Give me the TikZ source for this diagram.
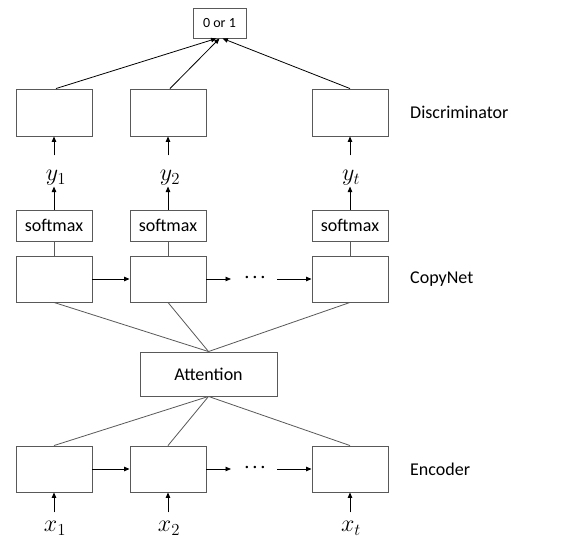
\documentclass[tikz,border=0pt]{standalone}
\usepackage{fix-cm}
\usepackage{fontspec}
\setmainfont{Carlito}
\usetikzlibrary{arrows.meta,calc}
\definecolor{boxgray}{HTML}{595959}
\tikzset{
  box/.style={draw=boxgray, line width=0.9pt, minimum width=76pt, minimum height=46pt, inner sep=0pt, font=\fontsize{18}{21}\selectfont},
  smbox/.style={box, minimum height=31pt},
  lbl/.style={anchor=west, font=\fontsize{18}{21}\selectfont, inner sep=0pt},
  mlbl/.style={inner sep=0pt, anchor=base, font=\fontsize{24}{28}\selectfont},
  dotsl/.style={inner sep=0pt, font=\fontsize{24}{28}\selectfont},
  arr/.style={-{Triangle[length=5.5pt,width=4.5pt]}, line width=0.8pt, black},
  ln/.style={line width=0.8pt, boxgray},
}
\begin{document}
\begin{tikzpicture}[x=1pt,y=-1pt]
\useasboundingbox[fill=white] (0,0) rectangle (566,540);
% top
\node[box, minimum width=53pt, minimum height=30pt, font=\fontsize{14}{16}\selectfont] (top) at (219.5,23) {0 or 1};
% discriminator
\node[box, minimum height=47pt] (d1) at (54,112.5) {};
\node[box, minimum height=47pt] (d2) at (168,112.5) {};
\node[box, minimum height=47pt] (d3) at (350,112.5) {};
\node[lbl] (dl) at (410,112) {Discriminator};
% y labels
\node[mlbl] (y1) at (56,181) {$y_1$};
\node[mlbl] (y2) at (170,181) {$y_2$};
\node[mlbl] (yt) at (351,181) {$y_t$};
% softmax
\node[smbox] (s1) at (54,225.5) {softmax};
\node[smbox] (s2) at (168,225.5) {softmax};
\node[smbox] (s3) at (350,225.5) {softmax};
% copynet
\node[box] (c1) at (54,279) {};
\node[box] (c2) at (168,279) {};
\node[box] (c3) at (350,279) {};
\node[lbl] (cl) at (410,279) {CopyNet};
\coordinate (ca) at (231,279);
\coordinate (cb) at (277,279);
\node[dotsl] (cdots) at (255,278) {$\cdot\!\cdot\!\cdot$};
% attention
\node[box, minimum width=137pt, minimum height=44pt] (att) at (208.5,374) {Attention};
% encoder
\node[box] (e1) at (54,469) {};
\node[box] (e2) at (168,469) {};
\node[box] (e3) at (350,469) {};
\node[lbl] (el) at (410,469) {Encoder};
\coordinate (ea) at (231,469);
\coordinate (eb) at (277,469);
\node[dotsl] (edots) at (255,468) {$\cdot\!\cdot\!\cdot$};
% x labels
\node[mlbl] (x1) at (55,532) {$x_1$};
\node[mlbl] (x2) at (169,532) {$x_2$};
\node[mlbl] (xt) at (351,532) {$x_t$};

% arrows to top
\draw[arr] ([xshift=2pt]d1.north) -- ([xshift=-3pt]top.south);
\draw[arr] ([xshift=2pt]d2.north) -- ([xshift=0pt]top.south);
\draw[arr] (d3.north) -- ([xshift=3pt]top.south);
% y into discriminator
\foreach \b in {d1,d2,d3} \draw[arr] ([yshift=-19pt]\b.south) -- (\b.south);
% softmax to y
\foreach \b in {s1,s2,s3} \draw[arr] (\b.north) -- ([yshift=23pt]\b.north);
% softmax - copynet
\draw[ln] (s1.south) -- (c1.north);
\draw[ln] (s2.south) -- (c2.north);
\draw[ln] (s3.south) -- (c3.north);
% copynet chain
\draw[arr] (c1.east) -- (c2.west);
\draw[arr] (c2.east) -- (ca);
\draw[arr] (cb) -- (c3.west);
% copynet - attention
\foreach \b in {c1,c2,c3} \draw[ln] (\b.south) -- (att.north);
% attention - encoder
\foreach \b in {e1,e2,e3} \draw[ln] (att.south) -- (\b.north);
% encoder chain
\draw[arr] (e1.east) -- (e2.west);
\draw[arr] (e2.east) -- (ea);
\draw[arr] (eb) -- (e3.west);
% x into encoder
\foreach \b in {e1,e2,e3} \draw[arr] ([yshift=-20pt]\b.south) -- (\b.south);
\end{tikzpicture}
\end{document}
